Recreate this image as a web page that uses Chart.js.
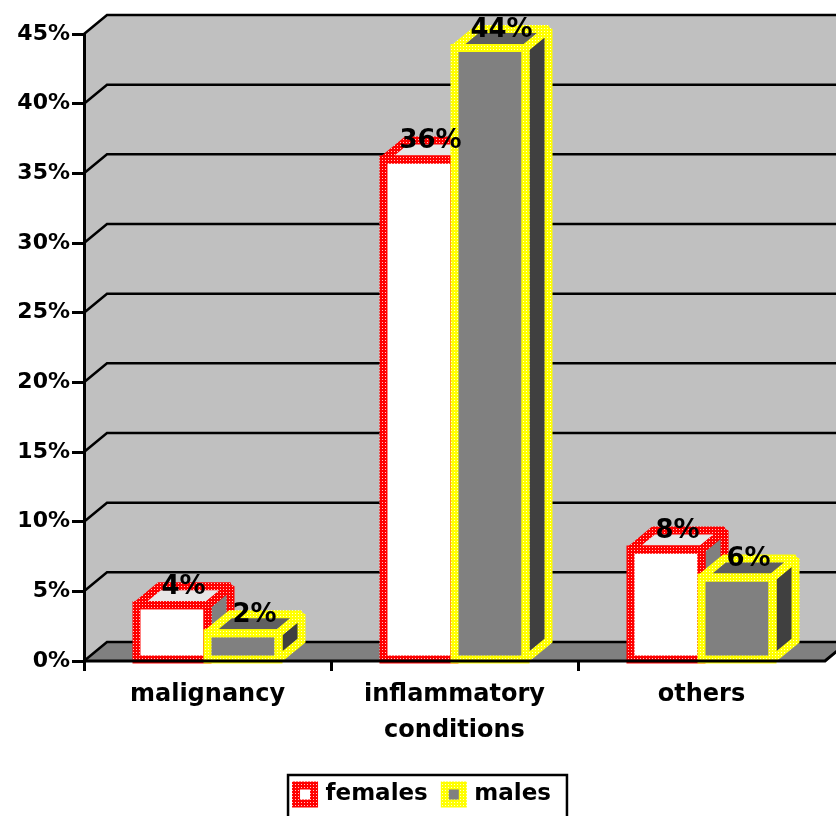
<!DOCTYPE html>
<html>
<head>
<meta charset="utf-8">
<script src="https://cdn.jsdelivr.net/npm/chart.js@4/dist/chart.umd.min.js"></script>
<style>
  html, body { margin: 0; padding: 0; background: #ffffff; }
  #wrap { width: 836px; height: 816px; }
</style>
</head>
<body>
<div id="wrap"><canvas id="chart" width="836" height="816"></canvas></div>
<script>
// Share of cases by diagnosis group, per sex (percent)
const categories = [['malignancy'], ['inflammatory', 'conditions'], ['others']];
const seriesNames = ['females', 'males'];
const females = [4, 36, 8];
const males = [2, 44, 6];
const yMax = 45;
const yStep = 5;

const FONT = "'DejaVu Sans', 'Liberation Sans', sans-serif";
// depth of the 3-D box (x to the right, y upward)
const DX = 23;
const DY = -19;
// the legend sits a little right of the canvas centre
const LEGEND_SHIFT = 11;

const canvas = document.getElementById('chart');
const ctx0 = canvas.getContext('2d');

// dotted fill used for the thick bar outlines
function dotted(base, dot) {
  const t = document.createElement('canvas');
  t.width = 3; t.height = 3;
  const g = t.getContext('2d');
  g.fillStyle = base; g.fillRect(0, 0, 3, 3);
  g.fillStyle = dot; g.fillRect(1, 1, 1, 1);
  return ctx0.createPattern(t, 'repeat');
}
const redDots = dotted('#ff0000', '#ffc8c8');
const yellowDots = dotted('#ffff00', '#ffffd0');

const looks = [
  { front: '#ffffff', top: '#e6e6e6', side: '#808080', edge: redDots },
  { front: '#808080', top: '#606060', side: '#404040', edge: yellowDots }
];

function path(ctx, pts) {
  ctx.beginPath();
  ctx.moveTo(pts[0][0], pts[0][1]);
  for (let i = 1; i < pts.length; i++) ctx.lineTo(pts[i][0], pts[i][1]);
  ctx.closePath();
}

const scene3d = {
  id: 'scene3d',
  afterUpdate(chart) {
    const lg = chart.legend;
    if (!lg) return;
    lg.left += LEGEND_SHIFT;
    lg.right += LEGEND_SHIFT;
    lg.legendHitBoxes.forEach(h => { h.left += LEGEND_SHIFT; });
  },
  beforeDraw(chart) {
    const { ctx, chartArea: a, scales: { y } } = chart;
    ctx.save();
    // side wall and back wall
    ctx.fillStyle = '#c0c0c0';
    path(ctx, [[a.left, a.bottom], [a.left, a.top], [a.left + DX, a.top + DY],
               [a.right + DX, a.top + DY], [a.right + DX, a.bottom + DY], [a.right, a.bottom]]);
    ctx.fill();
    // floor
    ctx.fillStyle = '#808080';
    path(ctx, [[a.left, a.bottom], [a.right, a.bottom], [a.right + DX, a.bottom + DY], [a.left + DX, a.bottom + DY]]);
    ctx.fill();
    // gridlines folded along the side wall
    ctx.strokeStyle = '#000000';
    ctx.lineWidth = 2.5;
    y.ticks.forEach(t => {
      const py = y.getPixelForValue(t.value);
      ctx.beginPath();
      ctx.moveTo(a.left, py);
      ctx.lineTo(a.left + DX, py + DY);
      ctx.lineTo(a.right + DX + 40, py + DY);
      ctx.stroke();
    });
    ctx.restore();
  },
  afterDatasetsDraw(chart) {
    const { ctx, chartArea: a } = chart;
    ctx.save();
    ctx.lineJoin = 'miter';
    ctx.miterLimit = 1.5;
    chart.data.datasets.forEach((ds, d) => {
      const look = looks[d];
      chart.getDatasetMeta(d).data.forEach(bar => {
        const { x, y, base, width } = bar.getProps(['x', 'y', 'base', 'width'], true);
        const l = x - width / 2, r = x + width / 2;
        const top = [[l, y], [r, y], [r + DX, y + DY], [l + DX, y + DY]];
        const side = [[r, y], [r + DX, y + DY], [r + DX, base + DY], [r, base]];
        const front = [[l, y], [r, y], [r, base], [l, base]];
        [[top, look.top], [side, look.side], [front, look.front]].forEach(([pts, fill]) => {
          path(ctx, pts);
          ctx.fillStyle = fill;
          ctx.fill();
        });
        ctx.strokeStyle = look.edge;
        ctx.lineWidth = 8;
        [top, side, front].forEach(pts => { path(ctx, pts); ctx.stroke(); });
      });
    });
    // front edge of the floor
    ctx.strokeStyle = '#000000';
    ctx.lineWidth = 3;
    ctx.beginPath();
    ctx.moveTo(a.left, a.bottom);
    ctx.lineTo(a.right, a.bottom);
    ctx.lineTo(a.right + DX, a.bottom + DY);
    ctx.stroke();
    // value labels
    ctx.fillStyle = '#000000';
    ctx.font = 'bold 26px ' + FONT;
    ctx.textAlign = 'center';
    ctx.textBaseline = 'middle';
    chart.data.datasets.forEach((ds, d) => {
      chart.getDatasetMeta(d).data.forEach((bar, i) => {
        const { x, y } = bar.getProps(['x', 'y'], true);
        ctx.fillText(ds.data[i] + '%', x + DX / 2, y + DY + 1);
      });
    });
    ctx.restore();
  },
  afterDraw(chart) {
    const lg = chart.legend;
    if (!lg || !lg.legendHitBoxes.length) return;
    const hb = lg.legendHitBoxes;
    const left = hb[0].left - 8;
    const last = hb[hb.length - 1];
    const right = last.left + last.width + 16;
    const top = hb[0].top - 8;
    const { ctx } = chart;
    ctx.save();
    ctx.strokeStyle = '#000000';
    ctx.lineWidth = 2.5;
    ctx.strokeRect(left, top, right - left, 60);
    ctx.restore();
  }
};

new Chart(canvas, {
  type: 'bar',
  data: {
    labels: categories,
    datasets: [
      { label: seriesNames[0], data: females, backgroundColor: 'rgba(0,0,0,0)', borderWidth: 0,
        categoryPercentage: 0.575, barPercentage: 1.0 },
      { label: seriesNames[1], data: males, backgroundColor: 'rgba(0,0,0,0)', borderWidth: 0,
        categoryPercentage: 0.575, barPercentage: 1.0 }
    ]
  },
  options: {
    responsive: false,
    animation: false,
    devicePixelRatio: 1,
    layout: { padding: { top: 34, right: 11, left: 0, bottom: 0 } },
    plugins: {
      tooltip: { enabled: false },
      legend: {
        position: 'bottom',
        labels: {
          color: '#000000',
          font: { family: FONT, size: 23, weight: 'bold' },
          boxWidth: 18,
          boxHeight: 18,
          padding: 17,
          generateLabels: () => [
            { text: seriesNames[0], fillStyle: looks[0].front, strokeStyle: redDots, lineWidth: 8, datasetIndex: 0 },
            { text: seriesNames[1], fillStyle: looks[1].front, strokeStyle: yellowDots, lineWidth: 8, datasetIndex: 1 }
          ]
        }
      }
    },
    scales: {
      x: {
        grid: {
          offset: true,
          drawOnChartArea: false,
          tickLength: 10,
          lineWidth: 3,
          color: c => (c.type === 'tick' ? '#000000' : 'rgba(0,0,0,0)')
        },
        border: { display: false },
        ticks: {
          color: '#000000',
          font: { family: FONT, size: 24, weight: 'bold', lineHeight: 1.5 },
          padding: 6,
          maxRotation: 0,
          autoSkip: false
        },
        afterFit: s => { s.height = 105; }
      },
      y: {
        min: 0,
        max: yMax,
        ticks: {
          stepSize: yStep,
          color: '#000000',
          font: { family: FONT, size: 22, weight: 'bold' },
          padding: 2,
          callback: v => v + '%'
        },
        grid: { drawOnChartArea: false, tickLength: 12, lineWidth: 3, color: '#000000' },
        border: { display: true, color: '#000000', width: 3 },
        afterFit: s => { s.width = 84; }
      }
    }
  },
  plugins: [scene3d]
});
</script>
</body>
</html>
